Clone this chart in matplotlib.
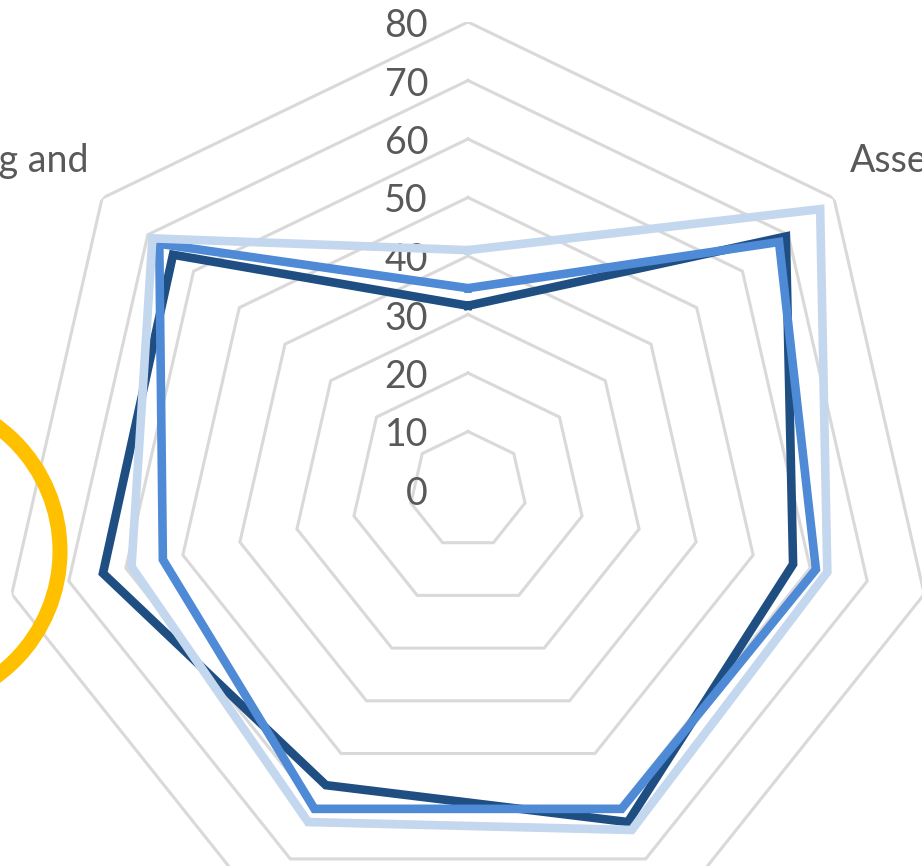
import numpy as np
import matplotlib
matplotlib.use("Agg")
import matplotlib.pyplot as plt
from matplotlib.patches import Circle
from matplotlib.transforms import ScaledTranslation

# ---- data ----
categories = ["Leadership", "Assessment", "Curriculum", "Instruction",
              "Professional Learning", "Community", "Strategic Planning and"]
series_dark = [31.5, 69.5, 57, 63, 56, 64, 64.5]
series_medium = [34.5, 68, 61, 60.5, 60.5, 53.5, 67.5]
series_light = [41, 77, 63, 64.5, 63, 59, 69]
grid_levels = [10, 20, 30, 40, 50, 60, 70, 80]
tick_values = [0, 10, 20, 30, 40, 50, 60, 70, 80]
visible_label_idx = [6, 1]

W, H = 922, 866
DPI = 100
fig = plt.figure(figsize=(W / DPI, H / DPI), dpi=DPI)
fig.patch.set_facecolor("white")

# polar axes: center at (468, 490 from top), radius of 80 = 468 px
cx, cy, R = 468, 490, 468
ax = fig.add_axes([(cx - R) / W, (H - cy - R) / H, 2 * R / W, 2 * R / H],
                  projection="polar")
ax.set_theta_zero_location("N")
ax.set_theta_direction(-1)
ax.set_ylim(0, 80)
ax.set_axis_off()

n = len(categories)
theta = np.linspace(0, 2 * np.pi, n, endpoint=False)
theta_c = np.append(theta, theta[0])

grid_col = "#D9D9D9"
for lv in grid_levels:
    ax.plot(theta_c, [lv] * (n + 1), color=grid_col, lw=2.2, zorder=1,
            solid_joinstyle="miter")

colors = {"dark": "#1F4E82", "medium": "#4E8AD6", "light": "#C3D7EF"}
for name, vals in [("dark", series_dark), ("medium", series_medium),
                   ("light", series_light)]:
    v = np.append(vals, vals[0])
    ax.plot(theta_c, v, color=colors[name], lw=6.2, zorder=3,
            solid_joinstyle="miter")

txt_col = "#595959"
font = "Lato"
fs = 27
for tv in tick_values:
    tr = ax.transData + ScaledTranslation(-40 / DPI, -15 / DPI, fig.dpi_scale_trans)
    ax.text(0, tv, str(tv), transform=tr, ha="right", va="baseline",
            fontsize=fs, color=txt_col, family=font, zorder=2)

# category labels (only the visible ones fall inside the frame)
offsets = {6: (-14, 26, "right"), 1: (16, 26, "left")}
for k in visible_label_idx:
    dx, dy, ha = offsets[k]
    tr = ax.transData + ScaledTranslation(dx / DPI, dy / DPI, fig.dpi_scale_trans)
    ax.text(theta[k], 80, categories[k], transform=tr, ha=ha, va="baseline",
            fontsize=fs, color=txt_col, family=font)

# overlay for the highlight circle (pixel coordinates)
ov = fig.add_axes([0, 0, 1, 1])
ov.set_xlim(0, W)
ov.set_ylim(H, 0)
ov.set_axis_off()
ov.patch.set_alpha(0)
ov.add_patch(Circle((-95, 551), 155, fill=False, edgecolor="#FFC000", lw=10.8))

fig.savefig("out.png", dpi=DPI)
